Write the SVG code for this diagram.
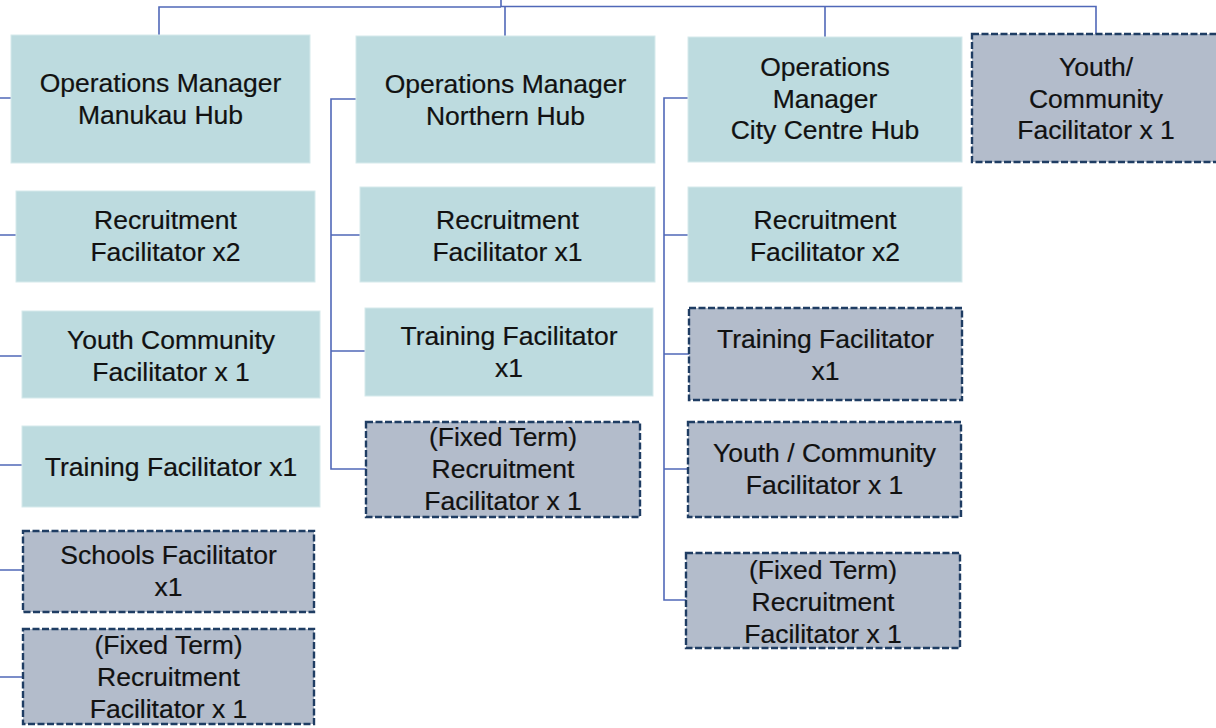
<svg xmlns="http://www.w3.org/2000/svg" width="1216" height="728" viewBox="0 0 1216 728">
<style>
.box{fill:#bddbdf;stroke:#d6eaec;stroke-width:1}
.tbd{fill:#b3bccb;stroke:#1f3d63;stroke-width:2.4;stroke-dasharray:7 2.5}
.con{fill:none;stroke:#5068b8;stroke-width:1.6}
text{font-family:"Liberation Sans",Arial,sans-serif;font-size:26.5px;fill:#111;text-anchor:middle;stroke:#111;stroke-width:0.2}
</style>
<rect width="1216" height="728" fill="#fff"/>
<g id="connectors">
<path class="con" d="M159,35 V7 H501 M501,0 V6.5 M501,6.5 H1096 V34 M505,7 V36 M825,6.5 V37"/>
<path class="con" d="M0,98 H11 M0,235 H16 M0,356 H22 M0,465 H22 M0,570 H23 M0,677 H23"/>
<path class="con" d="M356,99 H331 V469 H366 M331,235 H360 M331,351 H365"/>
<path class="con" d="M688,98 H664 V600 H686 M664,235 H688 M664,354 H689 M664,469 H688"/>
</g>
<g id="m-om"><rect class="box" x="11" y="35" width="299" height="128"/><text x="160.5" y="92">Operations Manager</text><text x="160.5" y="124">Manukau Hub</text></g>
<g id="m-rf"><rect class="box" x="16" y="191" width="299" height="91"/><text x="165.5" y="229">Recruitment</text><text x="165.5" y="261">Facilitator x2</text></g>
<g id="m-yc"><rect class="box" x="22" y="311" width="298" height="87"/><text x="171" y="349">Youth Community</text><text x="171" y="381">Facilitator x 1</text></g>
<g id="m-tf"><rect class="box" x="22" y="426" width="298" height="81"/><text x="171" y="476">Training Facilitator x1</text></g>
<g id="m-sf"><rect class="tbd" x="23" y="531" width="291" height="81"/><text x="168.5" y="564">Schools Facilitator</text><text x="168.5" y="596">x1</text></g>
<g id="m-ft"><rect class="tbd" x="23" y="629" width="291" height="95"/><text x="168.5" y="654">(Fixed Term)</text><text x="168.5" y="686">Recruitment</text><text x="168.5" y="718">Facilitator x 1</text></g>
<g id="n-om"><rect class="box" x="356" y="36" width="299" height="127"/><text x="505.5" y="93">Operations Manager</text><text x="505.5" y="125">Northern Hub</text></g>
<g id="n-rf"><rect class="box" x="360" y="187" width="295" height="95"/><text x="507.5" y="229">Recruitment</text><text x="507.5" y="261">Facilitator x1</text></g>
<g id="n-tf"><rect class="box" x="365" y="308" width="288" height="88"/><text x="509" y="345">Training Facilitator</text><text x="509" y="377">x1</text></g>
<g id="n-ft"><rect class="tbd" x="366" y="422" width="274" height="95"/><text x="503" y="446">(Fixed Term)</text><text x="503" y="478">Recruitment</text><text x="503" y="510">Facilitator x 1</text></g>
<g id="c-om"><rect class="box" x="688" y="37" width="274" height="125"/><text x="825" y="76">Operations</text><text x="825" y="108">Manager</text><text x="825" y="139">City Centre Hub</text></g>
<g id="c-rf"><rect class="box" x="688" y="187" width="274" height="95"/><text x="825" y="229">Recruitment</text><text x="825" y="261">Facilitator x2</text></g>
<g id="c-tf"><rect class="tbd" x="689" y="308" width="273" height="92"/><text x="825.5" y="348">Training Facilitator</text><text x="825.5" y="380">x1</text></g>
<g id="c-yc"><rect class="tbd" x="688" y="422" width="273" height="95"/><text x="824.5" y="462">Youth / Community</text><text x="824.5" y="494">Facilitator x 1</text></g>
<g id="c-ft"><rect class="tbd" x="686" y="553" width="274" height="95"/><text x="823" y="579">(Fixed Term)</text><text x="823" y="611">Recruitment</text><text x="823" y="643">Facilitator x 1</text></g>
<g id="youth"><rect class="tbd" x="972" y="34" width="250" height="128"/><text x="1096" y="76">Youth/</text><text x="1096" y="108">Community</text><text x="1096" y="139">Facilitator x 1</text></g>
</svg>
